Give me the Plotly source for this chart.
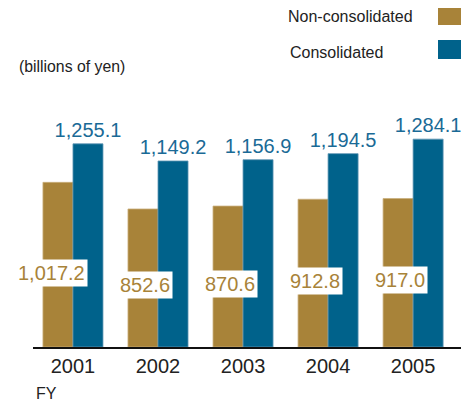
import plotly.graph_objects as go

years = ["2001", "2002", "2003", "2004", "2005"]
non_consolidated = [1017.2, 852.6, 870.6, 912.8, 917.0]
consolidated = [1255.1, 1149.2, 1156.9, 1194.5, 1284.1]

GOLD = "#A88339"
BLUE = "#00628B"
BLUE_TXT = "#1A6A96"
FONT = "Liberation Sans, Arial, sans-serif"

def fmt(v):
    return f"{v:,.1f}"

# page offset of the figure inside the browser window (default body margin)
OFF = 8
PAGE_W, PAGE_H = 469, 403
W, H = PAGE_W - OFF, PAGE_H - OFF
# plot area in page pixels: x 33..462, y 122..347
L = 33 - OFF
R = PAGE_W - 462
T = 122 - OFF
B = PAGE_H - 347
pw, ph = W - L - R, H - T - B

def px_x(p):
    return (p - OFF - L) / pw

def px_y(p):
    return (H - B - (p - OFF)) / ph

fig = go.Figure()
fig.add_trace(go.Bar(
    x=years, y=non_consolidated, name="Non-consolidated",
    marker=dict(color=GOLD, line=dict(color="#C9AE7C", width=0.8)),
    showlegend=False,
))
fig.add_trace(go.Bar(
    x=years, y=consolidated, name="Consolidated",
    marker=dict(color=BLUE, line=dict(color="#5E95B4", width=0.8)),
    text=[fmt(v) for v in consolidated], textposition="outside",
    constraintext="none",
    textfont=dict(color=BLUE_TXT, size=20, family=FONT),
    cliponaxis=False, showlegend=False,
))

annotations = []
for i, v in enumerate(non_consolidated):
    annotations.append(dict(
        x=i, y=v * 0.45, xref="x", yref="y", text=fmt(v),
        showarrow=False, xanchor="right", yanchor="middle", xshift=15,
        font=dict(color=GOLD, size=20, family=FONT),
        bgcolor="white", borderpad=2,
    ))

# legend (text + swatches) and captions, positions in page pixels
texts = [
    ("Non-consolidated", 415, 16, "right", 16),
    ("Consolidated", 385, 52, "right", 16),
    ("(billions of yen)", 17, 67, "left", 15.8),
    ("FY", 34, 393, "left", 16),
]
for t, x, y, anchor, size in texts:
    annotations.append(dict(
        x=px_x(x), y=px_y(y), xref="paper", yref="paper", text=t,
        showarrow=False, xanchor=anchor, yanchor="middle",
        font=dict(color="#222", size=size, family=FONT),
    ))

shapes = [
    dict(type="rect", xref="paper", yref="paper",
         x0=px_x(438), x1=px_x(462), y0=px_y(25), y1=px_y(6),
         fillcolor=GOLD, line=dict(width=0)),
    dict(type="rect", xref="paper", yref="paper",
         x0=px_x(438), x1=px_x(462), y0=px_y(59), y1=px_y(40),
         fillcolor=BLUE, line=dict(width=0)),
]

fig.update_layout(
    width=W, height=H,
    margin=dict(l=L, r=R, t=T, b=B, pad=0),
    paper_bgcolor="white", plot_bgcolor="white",
    barmode="group", bargap=0.294, bargroupgap=0,
    font=dict(family=FONT, color="#222"),
    annotations=annotations, shapes=shapes,
    xaxis=dict(range=[-0.47, 4.575], showgrid=False, zeroline=False,
               showline=True, linecolor="#111", linewidth=1.5,
               ticks="", tickfont=dict(size=20, color="#222", family=FONT),
               ticklabelstandoff=0, automargin=False),
    yaxis=dict(range=[0, 1390], visible=False, showgrid=False,
               zeroline=False, automargin=False),
)

fig.write_html("out.html")
